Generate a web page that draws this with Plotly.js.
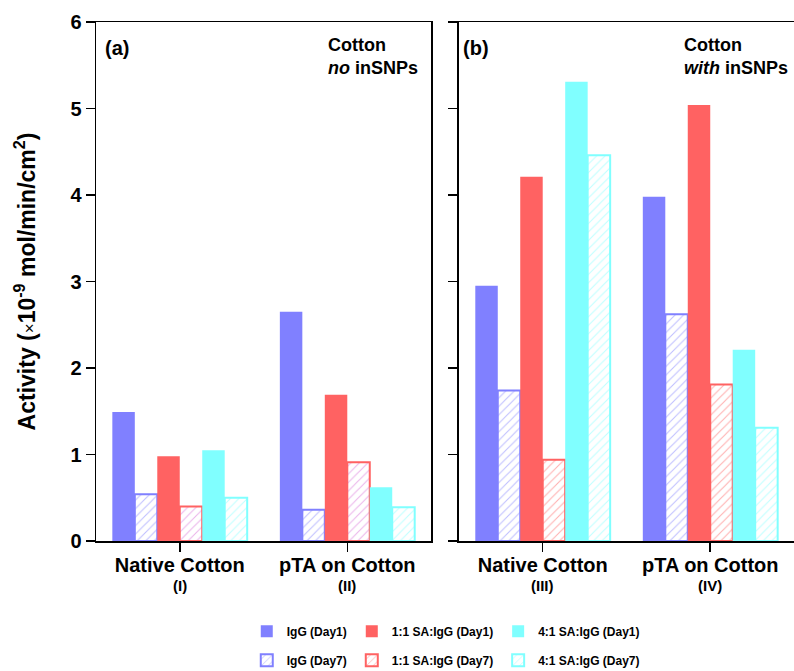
<!DOCTYPE html>
<html>
<head>
<meta charset="utf-8">
<script src="https://cdn.plot.ly/plotly-3.0.1.min.js"></script>
<style>html,body{margin:0;padding:0;background:#fff;}#chart{width:794px;height:671px;}</style>
</head>
<body>
<div id="chart"></div>
<script>
// ---- data ----
const catsA = ["Native Cotton", "pTA on Cotton"];
const romanA = ["(I)", "(II)"];
const catsB = ["Native Cotton ", "pTA on Cotton "];
const romanB = ["(III)", "(IV)"];

const seriesNames = ["IgG (Day1)", "IgG (Day7)", "1:1 SA:IgG (Day1)", "1:1 SA:IgG (Day7)", "4:1 SA:IgG (Day1)", "4:1 SA:IgG (Day7)"];

// panel (a): Cotton, no inSNPs
const aIgG1 = [1.49, 2.65];
const aIgG7 = [0.54, 0.36];
const a11_1 = [0.98, 1.69];
const a11_7 = [0.40, 0.91];
const a41_1 = [1.05, 0.62];
const a41_7 = [0.50, 0.39];

// panel (b): Cotton, with inSNPs
const bIgG1 = [2.95, 3.98];
const bIgG7 = [1.74, 2.62];
const b11_1 = [4.21, 5.04];
const b11_7 = [0.94, 1.81];
const b41_1 = [5.31, 2.21];
const b41_7 = [4.46, 1.31];

// ---- styling ----
const FONT = "Arial, 'Liberation Sans', sans-serif";
const BLUE = "#8080ff", RED = "#ff6262", CYAN = "#80ffff";

function solid(x, y, name, color, xa, ya, legend, show) {
  return {type: "bar", x: x, y: y, name: name, xaxis: xa, yaxis: ya,
    marker: {color: color, line: {width: 0}}, showlegend: show, legend: legend};
}
function hatch(x, y, name, color, hcolor, xa, ya, legend, show) {
  return {type: "bar", x: x, y: y, name: name, xaxis: xa, yaxis: ya,
    marker: {color: "white", line: {color: color, width: 2},
      pattern: {shape: "/", fgcolor: hcolor, bgcolor: "white", size: 6, solidity: 0.18, fillmode: "overlay"}},
    showlegend: show, legend: legend};
}

const traces = [
  solid(catsA, aIgG1, seriesNames[0], BLUE, "x", "y", "legend", false),
  hatch(catsA, aIgG7, seriesNames[1], BLUE, BLUE, "x", "y", "legend2", false),
  solid(catsA, a11_1, seriesNames[2], RED, "x", "y", "legend", false),
  hatch(catsA, a11_7, seriesNames[3], RED, "#d66ad6", "x", "y", "legend2", false),
  solid(catsA, a41_1, seriesNames[4], CYAN, "x", "y", "legend", false),
  hatch(catsA, a41_7, seriesNames[5], CYAN, CYAN, "x", "y", "legend2", false),

  solid(catsB, bIgG1, seriesNames[0], BLUE, "x2", "y2", "legend", true),
  hatch(catsB, bIgG7, seriesNames[1], BLUE, BLUE, "x2", "y2", "legend2", true),
  solid(catsB, b11_1, seriesNames[2], RED, "x2", "y2", "legend", true),
  hatch(catsB, b11_7, seriesNames[3], RED, RED, "x2", "y2", "legend2", true),
  solid(catsB, b41_1, seriesNames[4], CYAN, "x2", "y2", "legend", true),
  hatch(catsB, b41_7, seriesNames[5], CYAN, CYAN, "x2", "y2", "legend2", true)
];

const axisCommon = {showline: true, linecolor: "black", linewidth: 1.5, showgrid: false, zeroline: false,
  ticks: "outside", ticklen: 9, tickwidth: 1.5, tickcolor: "black"};

const annotations = [
  {xref: "x domain", yref: "y domain", x: 0.02, y: 0.975, xanchor: "left", yanchor: "top",
    text: "(a)", showarrow: false, font: {family: FONT, size: 20, weight: "bold"}},
  {xref: "x domain", yref: "y domain", x: 0.685, y: 0.978, xanchor: "left", yanchor: "top", align: "left",
    text: "Cotton<br><i>no</i> inSNPs", showarrow: false, font: {family: FONT, size: 18, weight: "bold"}},
  {xref: "x2 domain", yref: "y2 domain", x: 0.005, y: 0.975, xanchor: "left", yanchor: "top",
    text: "(b)", showarrow: false, font: {family: FONT, size: 20, weight: "bold"}},
  {xref: "x2 domain", yref: "y2 domain", x: 0.665, y: 0.978, xanchor: "left", yanchor: "top", align: "left",
    text: "Cotton<br><i>with</i> inSNPs", showarrow: false, font: {family: FONT, size: 18, weight: "bold"}}
];
// roman numerals under category labels
catsA.forEach((c, i) => annotations.push({xref: "x", yref: "y domain", x: c, y: -0.0865, yanchor: "middle",
  text: romanA[i], showarrow: false, font: {family: FONT, size: 15, weight: "bold"}}));
catsB.forEach((c, i) => annotations.push({xref: "x2", yref: "y2 domain", x: c, y: -0.0865, yanchor: "middle",
  text: romanB[i], showarrow: false, font: {family: FONT, size: 15, weight: "bold"}}));

const layout = {
  width: 794, height: 671,
  margin: {l: 96, r: 0, t: 22, b: 130, autoexpand: false},
  paper_bgcolor: "white", plot_bgcolor: "white",
  font: {family: FONT, color: "black", size: 12},
  barmode: "group", bargap: 0.195, bargroupgap: 0,
  xaxis: Object.assign({}, axisCommon, {domain: [0, 0.48], mirror: true, type: "category",
    range: [-0.5, 1.5], tickvals: catsA, ticktext: catsA.map(c => c.trim()), ticklabelstandoff: -4,
    tickfont: {family: FONT, size: 20, weight: "bold"}}),
  xaxis2: Object.assign({}, axisCommon, {domain: [0.52, 1], mirror: true, type: "category",
    range: [-0.5, 1.5], tickvals: catsB, ticktext: catsB.map(c => c.trim()), ticklabelstandoff: -4,
    tickfont: {family: FONT, size: 20, weight: "bold"}, anchor: "y2"}),
  yaxis: Object.assign({}, axisCommon, {range: [0, 6], dtick: 1, mirror: true,
    tickfont: {family: FONT, size: 20, weight: "bold"},
    title: {text: "Activity (<span style='font-weight:normal;font-size:17px'>×</span>10<sup>-9</sup> mol/min/cm<sup>2</sup>)",
      font: {family: FONT, size: 23, weight: "bold"}, standoff: 28}}),
  yaxis2: Object.assign({}, axisCommon, {range: [0, 6], dtick: 1, mirror: false, anchor: "x2",
    showticklabels: false}),
  legend: {orientation: "h", x: 0.216, y: -0.146, xanchor: "left", yanchor: "top",
    font: {family: FONT, size: 12, weight: "bold"}, bgcolor: "rgba(0,0,0,0)", itemwidth: 30},
  legend2: {orientation: "h", x: 0.216, y: -0.202, xanchor: "left", yanchor: "top",
    font: {family: FONT, size: 12, weight: "bold"}, bgcolor: "rgba(0,0,0,0)", itemwidth: 30},
  annotations: annotations
};

Plotly.newPlot("chart", traces, layout, {displayModeBar: false, staticPlot: true});
</script>
</body>
</html>
